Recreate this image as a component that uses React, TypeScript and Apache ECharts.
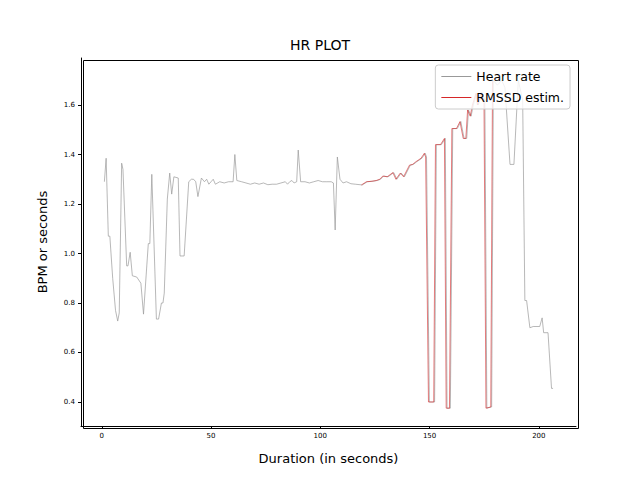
import React, { useEffect, useRef } from 'react';
import * as echarts from 'echarts';

// Heart rate trace: [seconds, value]
const heartRate: number[][] = [
  [1.2, 1.29], [2, 1.385], [3, 1.07], [3.7, 1.07], [5, 0.9], [6.3, 0.77], [7.3, 0.727], [8, 0.76],
  [9.1, 1.365], [9.7, 1.34], [11.4, 0.95], [12, 0.95], [13, 1.005], [14, 0.91], [16, 0.905],
  [17.9, 0.88], [19.1, 0.755], [21.3, 1.04], [22, 1.04], [22.9, 1.32], [25, 0.735], [26, 0.735],
  [27.3, 0.8], [28, 0.8], [28.6, 0.84], [30, 1.22], [31.1, 1.325], [32, 1.24], [33, 1.31],
  [35, 1.305], [35.8, 0.99], [37.7, 0.99], [39.8, 1.29], [41, 1.3], [42, 1.3], [43, 1.29],
  [44, 1.23], [45.6, 1.305], [47, 1.29], [48, 1.3], [49, 1.28], [50, 1.29], [51, 1.3],
  [52, 1.28], [54, 1.29], [56, 1.285], [58, 1.29], [60.1, 1.29], [60.9, 1.4], [61.8, 1.295],
  [64, 1.29], [66, 1.285], [68, 1.28], [70, 1.285], [72, 1.28], [74, 1.285], [76, 1.278],
  [78, 1.28], [80, 1.28], [82, 1.285], [84, 1.29], [85, 1.28], [86, 1.29], [87, 1.295],
  [88, 1.285], [89.2, 1.29], [89.9, 1.418], [91, 1.29], [93, 1.29], [95, 1.285], [97, 1.29],
  [99, 1.295], [101, 1.29], [103, 1.29], [105, 1.29], [106, 1.285], [106.8, 1.095],
  [107.8, 1.39], [109, 1.3], [110.4, 1.285], [112, 1.29], [114, 1.282], [116, 1.28],
  [119.2, 1.277], [121.5, 1.29], [124, 1.292], [126, 1.295], [127.6, 1.3], [129, 1.313],
  [131, 1.31], [133.6, 1.327], [135, 1.3], [137, 1.325], [138.5, 1.31], [141.2, 1.357],
  [142.6, 1.36], [144, 1.37], [146.5, 1.385], [148, 1.405], [148.6, 1.39], [149.9, 0.4],
  [152.3, 0.4], [153.1, 1.44], [155.4, 1.44], [157.2, 1.465], [158, 0.375], [159.5, 0.375],
  [160.6, 1.505], [162.7, 1.505], [164.3, 1.533], [165.8, 1.465], [167, 1.465], [167.8, 1.58],
  [169, 1.555], [170, 1.6], [171.6, 1.647], [172.3, 1.6], [173.1, 1.62], [174, 1.65],
  [175.3, 1.62], [176.2, 0.375], [178.4, 0.38], [179.2, 1.7], [181, 1.68], [183, 1.7],
  [184.5, 1.67], [186.8, 1.36], [188.6, 1.36], [190.6, 1.7], [192.6, 1.62], [193.6, 0.81],
  [194.4, 0.81], [195.9, 0.7], [197.4, 0.705], [200.4, 0.705], [201.5, 0.74], [202.2, 0.68],
  [204.2, 0.68], [205.8, 0.455], [206.5, 0.455],
];

// RMSSD estimate covers the middle part of the recording
const rmssdStart = 119;
const rmssdEnd = 179.5;
const rmssd: number[][] = heartRate
  .filter(([x]) => x >= rmssdStart && x <= rmssdEnd)
  .map(([x, y]) => [x - 0.4, y]);

const xTicks = [0, 50, 100, 150, 200];
const yTicks = [0.4, 0.6, 0.8, 1.0, 1.2, 1.4, 1.6];

const App: React.FC = () => {
  const chartRef = useRef<HTMLDivElement>(null);

  useEffect(() => {
    if (!chartRef.current) return;
    const chart = echarts.init(chartRef.current, undefined, { renderer: 'svg' });
    const tickLabel = { fontSize: 7, color: '#000', fontFamily: 'DejaVu Sans' };
    chart.setOption({
      animation: false,
      title: {
        text: 'HR PLOT',
        left: 'center',
        top: 33,
        textStyle: { fontSize: 14, fontWeight: 'normal', color: '#000', fontFamily: 'DejaVu Sans' },
      },
      grid: { left: 81, right: 64, top: 58, bottom: 54 },
      // matplotlib-style frame around the plot area
      graphic: [
        {
          type: 'rect',
          left: 81,
          top: 58,
          shape: { width: 495, height: 368 },
          style: { fill: 'none', stroke: '#000', lineWidth: 1 },
          silent: true,
          z: 10,
        },
      ],
      legend: {
        right: 70,
        top: 65,
        orient: 'vertical',
        itemWidth: 30,
        itemHeight: 1,
        itemGap: 8,
        padding: [5, 6, 5, 6],
        backgroundColor: 'rgba(255,255,255,0.8)',
        borderColor: '#ccc',
        borderWidth: 1,
        borderRadius: 3,
        textStyle: { fontSize: 12.5, color: '#000', fontFamily: 'DejaVu Sans' },
        data: [
          { name: 'Heart rate', icon: 'rect' },
          { name: 'RMSSD estim.', icon: 'rect' },
        ],
      },
      xAxis: {
        type: 'value',
        min: -9.5,
        max: 217,
        name: 'Duration (in seconds)',
        nameLocation: 'middle',
        nameGap: 26,
        nameTextStyle: { fontSize: 13, color: '#000', fontFamily: 'DejaVu Sans' },
        splitLine: { show: false },
        axisLine: { onZero: false, lineStyle: { color: '#000' } },
        axisTick: { customValues: xTicks, length: 3, lineStyle: { color: '#000' } },
        axisLabel: { ...tickLabel, customValues: xTicks, margin: 6 },
      },
      yAxis: {
        type: 'value',
        min: 0.303,
        max: 1.79,
        name: 'BPM or seconds',
        nameLocation: 'middle',
        nameGap: 32,
        nameTextStyle: { fontSize: 13, color: '#000', fontFamily: 'DejaVu Sans' },
        splitLine: { show: false },
        axisLine: { show: true, onZero: false, lineStyle: { color: '#000' } },
        axisTick: { show: true, customValues: yTicks, length: 3, lineStyle: { color: '#000' } },
        axisLabel: { ...tickLabel, customValues: yTicks, margin: 6, formatter: (v: number) => v.toFixed(1) },
      },
      series: [
        {
          name: 'Heart rate',
          type: 'line',
          data: heartRate,
          symbol: 'none',
          lineStyle: { color: '#999', width: 0.7 },
          itemStyle: { color: '#999' },
          z: 2,
        },
        {
          name: 'RMSSD estim.',
          type: 'line',
          data: rmssd,
          symbol: 'none',
          lineStyle: { color: '#d62728', width: 0.6 },
          itemStyle: { color: '#d62728' },
          z: 3,
        },
      ],
    });
    return () => chart.dispose();
  }, []);

  return <div ref={chartRef} style={{ width: 640, height: 480, margin: -8 }} />;
};

export default App;
